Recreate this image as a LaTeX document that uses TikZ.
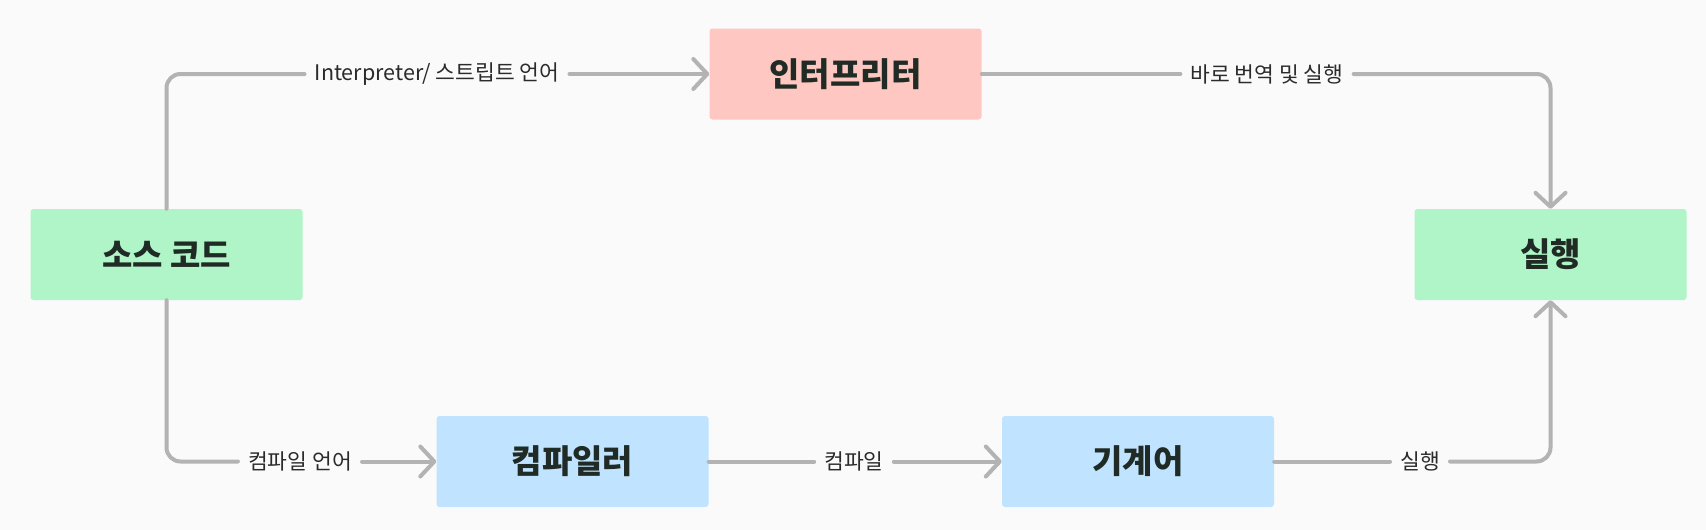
\documentclass[tikz,border=0pt]{standalone}
\usepackage{fontspec}
\setmainfont{Noto Sans CJK KR}
\usetikzlibrary{arrows.meta}
\definecolor{bg}{HTML}{FAFAFA}
\definecolor{greenbox}{HTML}{AFF5C8}
\definecolor{redbox}{HTML}{FFC7C2}
\definecolor{bluebox}{HTML}{C0E3FF}
\definecolor{linec}{HTML}{B3B3B3}
\definecolor{txt}{HTML}{2B2B2B}
\definecolor{boxtxt}{HTML}{1F2B24}
\tikzset{
  box/.style={rounded corners=3pt, minimum width=272pt, minimum height=91pt, inner sep=0pt,
    font=\fontsize{33}{38}\selectfont\bfseries, text=boxtxt},
  lab/.style={inner xsep=10pt, inner ysep=0pt, font=\fontsize{21.5}{25}\selectfont, text=txt},
  conn/.style={draw=linec, line width=4pt, line cap=round, line join=round, rounded corners=14pt},
  arr/.style={conn, -{Straight Barb[length=14pt,width=30pt,line cap=round,line join=round]}},
}
\begin{document}
\begin{tikzpicture}[x=1pt,y=-1pt]
\fill[bg] (0,0) rectangle (1706,530);
\useasboundingbox (0,0) rectangle (1706,530);
\node[box, fill=greenbox] (src) at (166.5,254.5) {소스 코드};
\node[box, fill=redbox] (interp) at (845.5,74) {인터프리터};
\node[box, fill=greenbox] (exec) at (1550.5,254.5) {실행};
\node[box, fill=bluebox] (comp) at (572.5,461.5) {컴파일러};
\node[box, fill=bluebox] (mach) at (1138,461.5) {기계어};
\node[lab] (l1) at (437,74) {Interpreter/ 스트립트 언어};
\node[lab] (l2) at (1267,74) {바로 번역 및 실행};
\node[lab] (l3) at (300,461.5) {컴파일 언어};
\node[lab] (l4) at (854,461.5) {컴파일};
\node[lab] (l5) at (1420,461.5) {실행};
\draw[conn] (src.north) |- (l1.west);
\draw[arr] (l1.east) -- (interp.west);
\draw[conn] (interp.east) -- (l2.west);
\draw[arr] (l2.east) -| (exec.north);
\draw[conn] (src.south) |- (l3.west);
\draw[arr] (l3.east) -- (comp.west);
\draw[conn] (comp.east) -- (l4.west);
\draw[arr] (l4.east) -- (mach.west);
\draw[conn] (mach.east) -- (l5.west);
\draw[arr] (l5.east) -| (exec.south);
\end{tikzpicture}
\end{document}
